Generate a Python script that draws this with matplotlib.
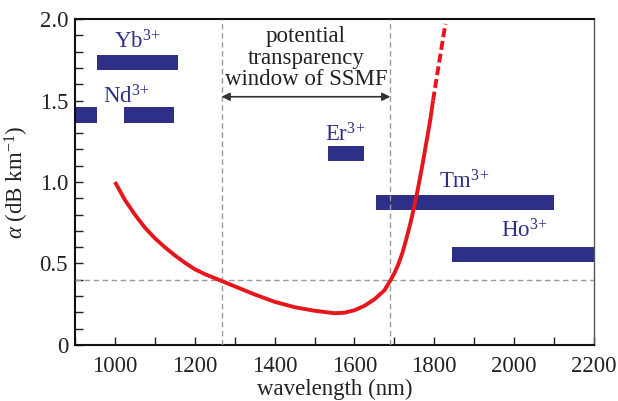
import matplotlib
matplotlib.use("Agg")
import matplotlib.pyplot as plt
from matplotlib.ticker import MultipleLocator

plt.rcParams['font.family'] = ['Liberation Serif', 'DejaVu Serif']
plt.rcParams['mathtext.fontset'] = 'custom'
plt.rcParams['mathtext.rm'] = 'Liberation Serif'
plt.rcParams['mathtext.it'] = 'Liberation Serif:italic'
plt.rcParams['mathtext.bf'] = 'Liberation Serif:bold'

# ---- data ----
# fibre loss curve (solid part), nm and dB/km
wl_solid = [1000, 1025, 1050, 1075, 1100, 1125, 1150, 1175, 1200, 1225, 1250, 1275,
            1300, 1350, 1400, 1450, 1500, 1550, 1575, 1600, 1625, 1650, 1675,
            1690, 1700, 1710, 1720, 1730, 1740, 1750, 1760, 1770, 1780, 1790, 1797]
loss_solid = [1.00, 0.89, 0.80, 0.72, 0.655, 0.60, 0.55, 0.505, 0.465, 0.435, 0.41, 0.385,
              0.36, 0.31, 0.265, 0.232, 0.21, 0.195, 0.198, 0.213, 0.24, 0.28, 0.335,
              0.395, 0.44, 0.495, 0.563, 0.65, 0.745, 0.85, 0.97, 1.10, 1.24, 1.38, 1.50]
# extrapolated (dashed) part
wl_dash = [1797, 1812, 1828]
loss_dash = [1.50, 1.73, 1.97]

# rare-earth dopant emission bands
ion_names = ['Yb', 'Nd', 'Nd', 'Er', 'Tm', 'Ho']
band_start = [954, 900, 1022, 1533, 1653, 1845]
band_end = [1158, 954, 1148, 1624, 2100, 2200]
band_y = [1.735, 1.41, 1.41, 1.175, 0.875, 0.555]
band_h = [0.09, 0.095, 0.095, 0.09, 0.09, 0.09]

label_names = ['Yb', 'Nd', 'Er', 'Tm', 'Ho']
label_x = [1057, 1028, 1577, 1876, 2025]
label_y = [1.86, 1.52, 1.29, 1.00, 0.70]

window_lo, window_hi = 1267, 1690
loss_threshold = 0.4

navy = '#2e3087'
red = '#e5161c'
FS = 16.5

fig = plt.figure(figsize=(6.18, 4.01), dpi=100)
ax = fig.add_axes([0.1214, 0.1397, 0.8396, 0.8129])

ax.barh(band_y, [e - s for s, e in zip(band_start, band_end)], left=band_start,
        height=band_h, color=navy, edgecolor='none', zorder=2)

for n, x, y in zip(label_names, label_x, label_y):
    ax.text(x, y, n + r'$^{3\!+}$', color=navy, fontsize=FS, ha='center', va='center', zorder=5)

ax.axvline(window_lo, color='#9a9a9a', lw=1.0, ls=(0, (4, 2.5)), zorder=3)
ax.axvline(window_hi, color='#9a9a9a', lw=1.0, ls=(0, (4, 2.5)), zorder=3)
ax.axhline(loss_threshold, color='#9a9a9a', lw=1.0, ls=(0, (4, 2.5)), zorder=3)

ax.plot(wl_solid, loss_solid, color=red, lw=2.8, solid_capstyle='butt', zorder=4)
ax.plot(wl_dash, loss_dash, color=red, lw=2.8, ls=(0, (2.3, 1.0)), dash_capstyle='butt', zorder=4)

ax.annotate('', xy=(window_lo, 1.523), xytext=(window_hi, 1.523),
            arrowprops=dict(arrowstyle='<|-|>', color='#333333', lw=1.2,
                            mutation_scale=12, shrinkA=0, shrinkB=0), zorder=5)
ax.text((window_lo + window_hi) / 2, 1.76, 'potential\ntransparency\nwindow of SSMF',
        ha='center', va='center', fontsize=FS, color='#222222', linespacing=1.02, zorder=5)

ax.set_xlim(900, 2200)
ax.set_ylim(0, 2.0)
ax.xaxis.set_major_locator(MultipleLocator(200))
ax.xaxis.set_minor_locator(MultipleLocator(100))
ax.yaxis.set_major_locator(MultipleLocator(0.5))
ax.yaxis.set_minor_locator(MultipleLocator(0.1))
ax.set_yticks([0, 0.5, 1.0, 1.5, 2.0])
ax.set_yticklabels(['0', '0.5', '1.0', '1.5', '2.0'])
ax.tick_params(which='both', direction='in', length=6, width=1.0, colors='#222222',
               labelsize=FS, top=False, right=False, pad=5)
ax.tick_params(axis='x', pad=8)

for s in ['left', 'bottom', 'top']:
    ax.spines[s].set_linewidth(1.5)
    ax.spines[s].set_color('#111111')
ax.spines['right'].set_linewidth(1.0)
ax.spines['right'].set_color('#555555')

ax.set_xlabel('wavelength (nm)', fontsize=FS, labelpad=1, color='#222222')
ax.set_ylabel(r'$\alpha$ (dB km$^{-1}$)', fontsize=FS, labelpad=6, color='#222222')

fig.savefig('out.png', dpi=100)
